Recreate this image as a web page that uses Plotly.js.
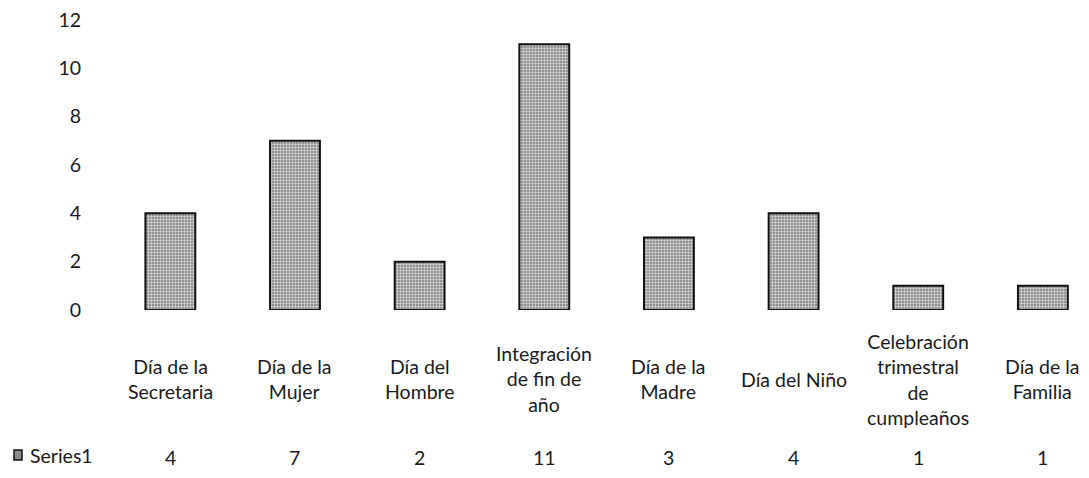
<!DOCTYPE html>
<html>
<head>
<meta charset="utf-8">
<script src="https://cdn.plot.ly/plotly-3.0.1.min.js"></script>
<style>html,body{margin:0;padding:0;background:#fff;}#chart{width:1089px;height:478px;}</style>
</head>
<body>
<div id="chart"></div>
<script>
const categories = [
  "Día de la<br>Secretaria",
  "Día de la<br>Mujer",
  "Día del<br>Hombre",
  "Integración<br>de fin de<br>año",
  "Día de la<br>Madre",
  "Día del Niño",
  "Celebración<br>trimestral<br>de<br>cumpleaños",
  "Día de la<br>Familia"
];
const series1 = [4, 7, 2, 11, 3, 4, 1, 1];
const seriesName = "Series1";
const yTicks = [0, 2, 4, 6, 8, 10, 12];

const FONT = "Lato, Open Sans, sans-serif";
const FS = 19.5;
const TXT = "#1a1a1a";
const plotTop = 20, plotBottom = 310, plotH = plotBottom - plotTop;
const pY = pix => (plotBottom - pix) / plotH;
const plotLeft = 108, plotW = 1089 - plotLeft;
const pX = pix => (pix - plotLeft) / plotW;

const trace = {
  type: "bar",
  x: categories.map((c, i) => i),
  y: series1,
  width: 0.4,
  name: seriesName,
  marker: {
    color: "#8a8a8a",
    line: {color: "#111", width: 2},
    pattern: {shape: ".", fgcolor: "#d8d8d8", bgcolor: "#7a7a7a", size: 3, solidity: 0.5}
  },
  hoverinfo: "skip"
};

const annotations = [];
categories.forEach((c, i) => {
  annotations.push({
    x: i, xref: "x", y: pY(379), yref: "paper",
    text: c, showarrow: false, xanchor: "center", yanchor: "middle",
    align: "center", font: {family: FONT, size: FS, color: TXT}
  });
  annotations.push({
    x: i, xref: "x", y: pY(457), yref: "paper",
    text: String(series1[i]), showarrow: false, xanchor: "center", yanchor: "middle",
    font: {family: FONT, size: FS, color: TXT}
  });
});
annotations.push({
  x: pX(28), xref: "paper", y: pY(455), yref: "paper",
  text: seriesName, showarrow: false, xanchor: "left", yanchor: "middle",
  font: {family: FONT, size: FS, color: TXT}
});

const layout = {
  width: 1089, height: 478,
  margin: {l: plotLeft, r: 0, t: plotTop, b: 478 - plotBottom},
  paper_bgcolor: "#fff", plot_bgcolor: "#fff",
  showlegend: false,
  xaxis: {
    range: [-0.5, categories.length - 0.63],
    showticklabels: false, showgrid: false, zeroline: false, showline: false, ticks: ""
  },
  yaxis: {
    range: [0, 12], tickvals: yTicks, ticktext: yTicks.map(String),
    showgrid: false, zeroline: false, showline: false, ticks: "",
    ticklabelstandoff: 26,
    tickfont: {family: FONT, size: FS, color: TXT}
  },
  annotations: annotations,
  shapes: [{
    type: "rect", xref: "paper", yref: "paper",
    x0: pX(14), x1: pX(22), y0: pY(460), y1: pY(450),
    fillcolor: "#8a8a8a", line: {color: "#111", width: 1.5}
  }]
};

Plotly.newPlot("chart", [trace], layout, {staticPlot: true, displayModeBar: false});
</script>
</body>
</html>
